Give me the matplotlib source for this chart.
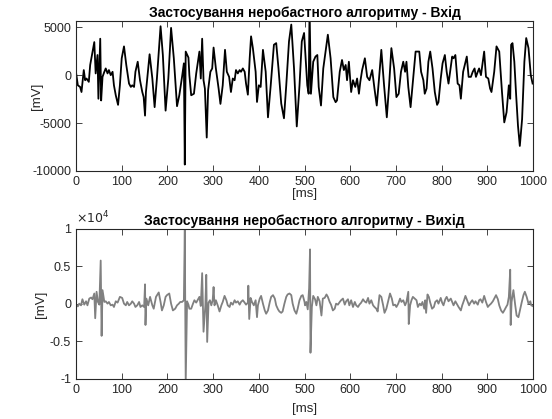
import numpy as np
import matplotlib
matplotlib.use("Agg")
import matplotlib.pyplot as plt

plt.rcParams['font.family'] = ['Liberation Sans', 'DejaVu Sans']
plt.rcParams['axes.unicode_minus'] = False

# input signal, [ms] / [mV]
t_in = [0, 4, 9, 12, 17, 20, 23, 28, 31, 35, 40, 43, 47, 49, 53, 55, 58, 62, 65, 69,
        72, 76, 80, 83, 87, 92, 96, 100, 105, 110, 116, 120, 123, 127, 130, 135, 140, 145, 148, 151,
        153, 161, 167, 172, 177, 185, 190, 196, 202, 208, 214, 221, 226, 232, 236, 238, 240, 246, 248, 252,
        258, 263, 270, 273, 276, 279, 282, 286, 289, 294, 298, 301, 306, 312, 316, 321, 326, 330, 335, 339,
        343, 347, 350, 354, 358, 361, 365, 369, 372, 376, 380, 383, 387, 393, 396, 400, 404, 409, 415, 420,
        426, 433, 438, 443, 449, 455, 460, 466, 471, 477, 483, 489, 494, 499, 502, 506, 509, 511, 514, 519,
        524, 528, 531, 536, 541, 546, 551, 557, 563, 568, 571, 577, 582, 586, 590, 593, 597, 602, 606, 611,
        615, 619, 622, 626, 632, 637, 642, 648, 653, 658, 663, 668, 674, 680, 685, 690, 696, 701, 706, 711,
        716, 720, 723, 727, 732, 737, 743, 748, 751, 755, 760, 763, 767, 771, 775, 780, 785, 790, 793, 798,
        802, 807, 811, 815, 820, 823, 826, 830, 835, 839, 842, 847, 855, 859, 864, 868, 872, 875, 879, 882,
        886, 890, 893, 897, 902, 906, 909, 915, 920, 926, 932, 937, 942, 947, 950, 952, 955, 959, 963, 967,
        971, 976, 981, 985, 990, 995, 999]
v_in = [280, -1060, -1230, -1760, 530, -530, -350, -700, 1060, 2100, 3450, 180, 2100, -2460, 3800, -2640, -180, 350, 700, 180,
        530, 0, 350, -1060, -2100, -3100, -1060, 1760, 3000, 1060, -880, -1230, -1060, -1230, 350, 1400, -530, -1760, -2290, -4220,
        -1760, 2180, -350, -3340, -350, 5100, 2100, -3700, -350, 4930, 1760, -3240, -2100, -180, 1230, -9330, 2460, 1830, 0, -2100,
        -1940, 180, 2460, -350, 3800, -530, -1400, -6510, -1580, 350, 700, 2880, 700, -1400, -3000, -1060, 2640, 350, -180, -1760,
        -350, -530, 530, 180, 530, 350, 700, 350, -880, -2040, 1760, 4050, 2800, 350, -2800, -1060, -1230, 2640, 350, -4400,
        -1060, 3170, 3340, 700, -2960, -4500, -1060, 3520, 5280, 700, -5350, -1060, 3520, 4400, 2100, -1060, -1940, 7000, -1940, 1400,
        1940, 2100, -1230, -3170, 700, 2460, 4220, 1760, -2290, -2820, -2640, 350, 1580, 530, 1060, -530, 1400, -1760, -530, -1230,
        -350, -1940, -700, 530, 1760, -180, -530, 530, -1400, -3170, -350, 2640, -1060, -4400, -1060, 2820, 700, -2290, -1940, 350,
        1400, 350, 1400, -1230, -3340, -700, 2460, 2460, 2460, 350, -530, -1940, -1400, 1400, 2460, 700, -1760, -3100, -2820, -350,
        1230, 2100, 350, -880, 880, 1940, 1760, 2100, -880, -1060, -2460, 350, 1940, -180, -180, 350, 700, -180, 350, 700,
        0, 1400, 2460, -180, -350, -1400, -1760, 350, 3000, 2460, -1760, -4930, -3870, -1060, -2460, 3170, 3340, 1400, -2100, -5280,
        -7390, -4580, 1400, 3870, 2820, 0, -880]

# output signal, [ms] / [mV]
t_out = [0, 4, 7, 11, 14, 18, 22, 25, 29, 33, 36, 40, 42, 45, 48, 51, 54, 56, 58, 62,
         65, 69, 72, 76, 80, 83, 87, 91, 96, 101, 105, 109, 112, 116, 120, 123, 127, 130, 134, 138,
         141, 145, 149, 151, 152, 154, 158, 162, 167, 170, 175, 181, 185, 188, 192, 196, 199, 204, 208, 212,
         217, 221, 225, 228, 232, 236, 238, 240, 243, 246, 248, 252, 256, 259, 263, 266, 270, 273, 276, 279,
         283, 285, 287, 290, 293, 296, 299, 301, 303, 306, 310, 314, 318, 321, 325, 329, 332, 336, 339, 343,
         347, 350, 354, 358, 361, 365, 369, 372, 376, 377, 379, 382, 385, 389, 393, 396, 398, 402, 405, 409,
         413, 416, 420, 424, 427, 431, 435, 438, 442, 445, 449, 452, 456, 460, 463, 467, 471, 474, 478, 482,
         485, 489, 493, 496, 500, 501, 504, 507, 510, 512, 513, 516, 519, 523, 526, 529, 533, 537, 540, 544,
         548, 551, 555, 558, 562, 566, 569, 573, 577, 580, 584, 588, 591, 595, 598, 602, 606, 610, 613, 617,
         620, 624, 628, 631, 635, 639, 642, 646, 650, 653, 657, 660, 664, 668, 672, 675, 679, 683, 687, 691,
         694, 698, 701, 705, 709, 712, 716, 720, 723, 727, 728, 731, 734, 737, 741, 745, 748, 752, 755, 758,
         762, 764, 766, 769, 772, 775, 779, 783, 786, 790, 793, 798, 801, 804, 808, 811, 815, 820, 823, 826,
         830, 834, 837, 842, 845, 849, 852, 857, 860, 863, 867, 871, 874, 879, 882, 885, 889, 893, 897, 901,
         904, 908, 912, 915, 919, 923, 926, 930, 934, 937, 941, 944, 947, 950, 951, 953, 957, 961, 964, 968,
         972, 975, 979, 982, 986, 990, 994, 996, 999]
v_out = [-90, -320, 45, -180, 630, -90, 360, -180, 720, 860, 630, 1400, -1900, 1630, 270, -90, 5790, -4250, 1850, 270,
         360, 45, 270, -180, -90, -400, 360, 180, 950, 810, 45, -180, 270, -180, 45, 360, 45, -400, -180, 270,
         -400, -180, -400, 2620, -2800, 720, -180, 950, -180, -630, 950, 1540, 270, -860, -180, 950, 1180, 1400, 45, -860,
         -630, -180, 45, 270, 270, 500, 9850, -10500, 360, -90, -630, -630, 45, 500, 180, 500, 950, -270, 4110, -3700,
         -180, 3890, -5060, 180, 500, -180, 500, 2260, -180, 500, -180, -1000, -180, 270, 1080, 500, -180, -400, 180, -90,
         500, 180, 360, -90, 270, 500, 180, -90, 180, 2440, -2000, 810, 270, -180, 500, -1760, -180, 720, 1080, 45,
         -860, -1300, -860, 270, 950, 1180, 720, -180, -720, -1000, -1180, -1000, 45, 950, 1270, 1400, 1180, 45, -860, -1300,
         -630, 500, 1080, 1180, 270, -180, 270, -720, 2080, 7280, -6500, -400, 1080, 630, -180, 950, 360, -1540, 720, 810,
         1270, 950, 270, -90, -860, -630, 45, -90, 270, 500, 720, -90, 360, 630, -180, 500, -400, 270, -180, -400,
         -90, 180, 630, 360, 180, 810, 45, 500, -180, -400, -630, -1000, 1180, 950, -180, -1180, -630, 360, 1400, 720,
         -180, -90, -400, 45, 720, 270, 500, -180, 270, 1630, -2670, -180, 500, 950, 720, 500, -400, 45, -180, 270,
         -630, 500, -1180, 1270, 950, 180, -630, -400, 270, 500, 45, 810, 180, -180, 630, 950, 360, 720, 270, -180,
         360, -90, -400, -860, -180, 500, 1080, 270, -180, 180, 500, 45, 360, -90, 500, 630, 180, 1080, 270, -400,
         -180, 45, 360, 720, 1180, 630, -180, -860, -1180, -860, -400, -90, 950, 4570, -2800, 270, 1850, -180, -1540, -1760,
         -630, 180, 1180, 1630, 950, 45, 360, -180, -270]

title_txt = 'Застосування неробастного алгоритму - '
axis_col = '#262626'

fig = plt.figure(figsize=(5.52, 4.19), dpi=100)
ax1 = fig.add_axes([0.1377, 0.5919, 0.828, 0.358])
ax2 = fig.add_axes([0.1377, 0.0955, 0.828, 0.358])

ax1.plot(t_in, v_in, color='black', lw=1.3)
ax2.plot(t_out, v_out, color='#808080', lw=1.3)

ax1.set_xlim(0, 1000)
ax1.set_ylim(-10000, 5650)
ax1.set_yticks([-10000, -5000, 0, 5000])
ax1.set_title(title_txt + 'Вхід', fontsize=10, fontweight='bold', pad=3)

ax2.set_xlim(0, 1000)
ax2.set_ylim(-10000, 10000)
ax2.set_yticks([-10000, -5000, 0, 5000, 10000])
ax2.set_yticklabels(['-1', '-0.5', '0', '0.5', '1'])
ax2.set_title(title_txt + 'Вихід', fontsize=10, fontweight='bold', pad=3)
ax2.text(0.0, 1.02, r'$\times10^{4}$', transform=ax2.transAxes, fontsize=9,
         color=axis_col, ha='left', va='bottom')

for ax in (ax1, ax2):
    ax.set_xticks(range(0, 1001, 100))
    ax.set_xlabel('[ms]', fontsize=9.5, color=axis_col)
    ax.set_ylabel('[mV]', fontsize=9.5, color=axis_col)
    ax.tick_params(direction='in', length=4, width=0.6, top=True, right=True,
                   labelsize=9, colors=axis_col, pad=3.5)
    for s in ax.spines.values():
        s.set_color(axis_col)
        s.set_linewidth(0.8)

ax1.xaxis.set_label_coords(0.5, -0.112)
ax1.yaxis.set_label_coords(-0.072, 0.5)
ax2.xaxis.set_label_coords(0.5, -0.16)
ax2.yaxis.set_label_coords(-0.063, 0.5)

fig.savefig('out.png', dpi=100)
